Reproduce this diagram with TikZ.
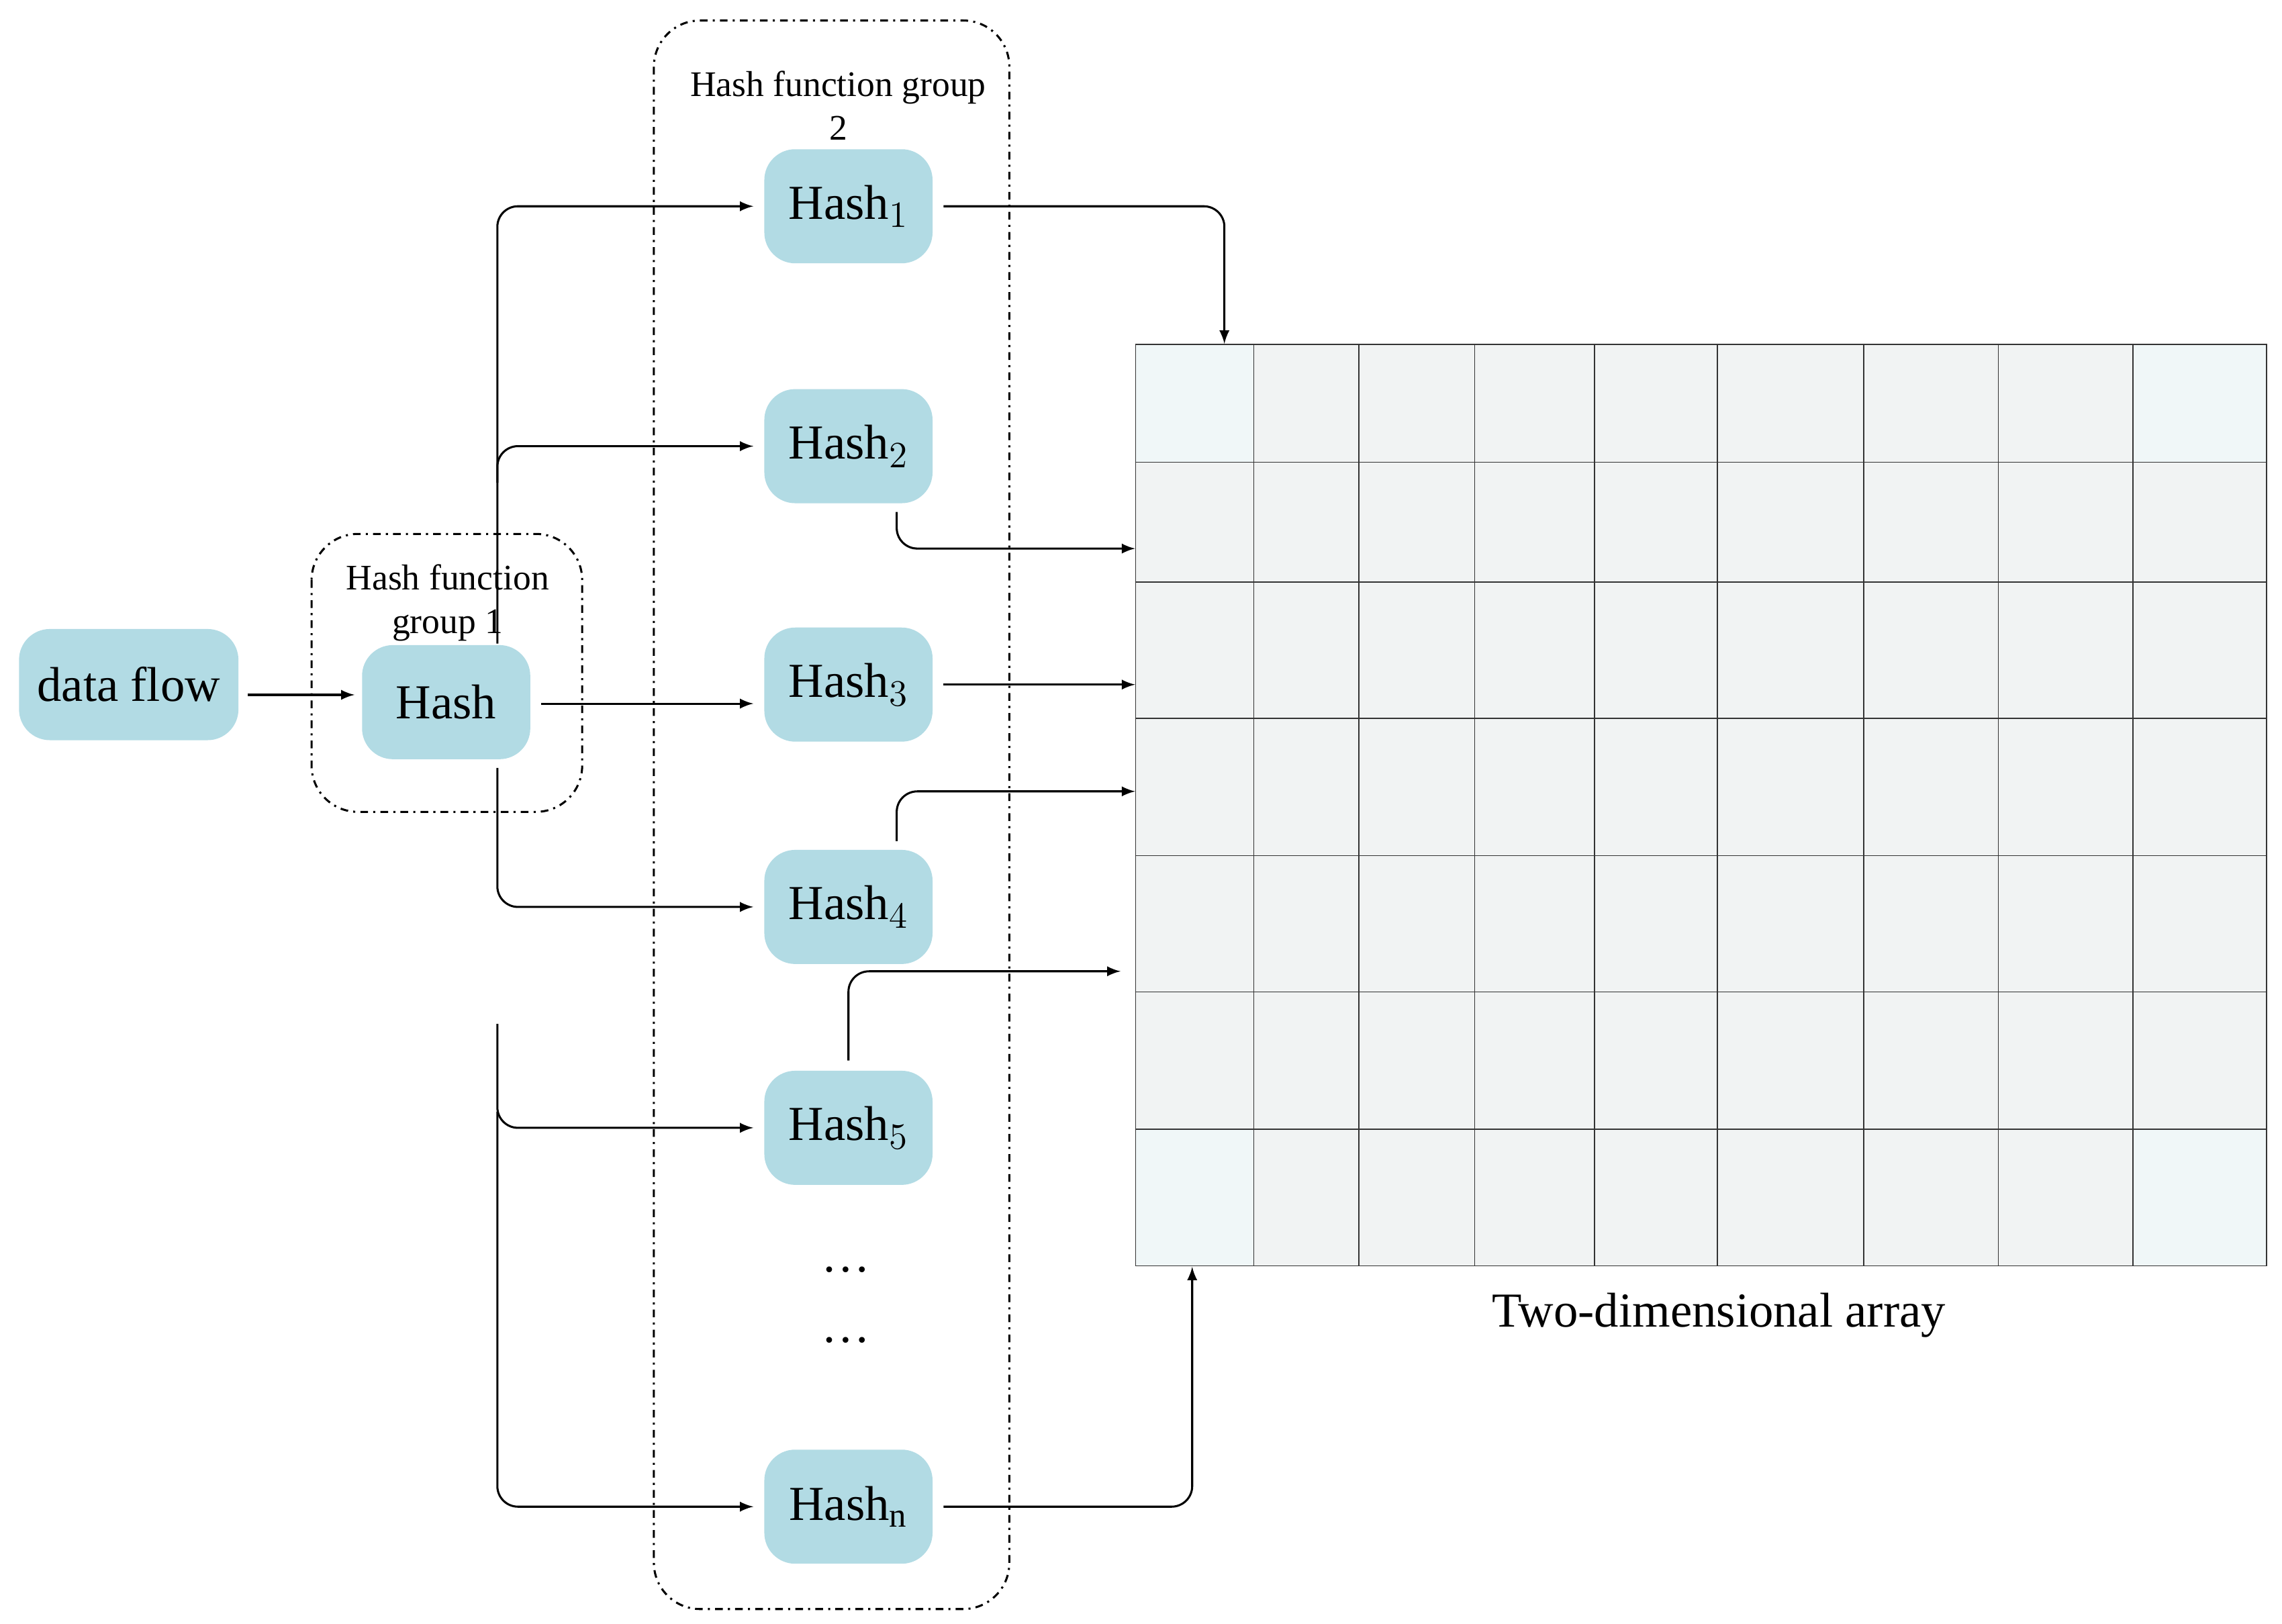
\documentclass[tikz,border=0pt]{standalone}
\usepackage{fontspec}
\setmainfont{Liberation Serif}
\begin{document}
\begin{tikzpicture}[x=0.02cm,y=-0.02cm,
  hb/.style={draw=none,fill=cyan!25!blue!10!white,fill=hashblue,rounded corners=12,minimum width=115*0.02cm,minimum height=78*0.02cm,font=\fontsize{19}{22}\selectfont},
  grp/.style={draw,thick,dash dot,rounded corners=18},
  arr/.style={->,>=latex,thick,rounded corners=8},
  glab/.style={font=\fontsize{14}{17}\selectfont,align=center}]
\definecolor{hashblue}{RGB}{178,219,228}
\definecolor{cellg}{RGB}{241,243,243}
\definecolor{cellb}{RGB}{240,247,248}
\useasboundingbox (0,0) rectangle (1560,1110);
% groups
\draw[grp] (213,365) rectangle (398,555);
\draw[grp] (447,14) rectangle (690,1100);
\node[glab] (g1) at (306,412) {Hash function\\group 1};
\node[glab] (g2) at (573,72) {Hash function group\\2};
% nodes
\node[hb,minimum width=150*0.02cm,minimum height=76*0.02cm] (df) at (88,468) {data flow};
\node[hb] (h) at (305,480) {Hash};
\node[hb] (h1) at (580,141) {Hash$_1$};
\node[hb] (h2) at (580,305) {Hash$_2$};
\node[hb] (h3) at (580,468) {Hash$_3$};
\node[hb] (h4) at (580,620) {Hash$_4$};
\node[hb] (h5) at (580,771) {Hash$_5$};
\node[hb] (hn) at (580,1030) {Hash$_\mathrm{n}$};
\node[font=\fontsize{19}{22}\selectfont] (d1) at (578,868) {\dots};
\node[font=\fontsize{19}{22}\selectfont] (d2) at (578,916) {\dots};
% grid
\foreach \xa/\xb [count=\i] in {776/857,857/929,929/1008,1008/1090,1090/1174,1174/1274,1274/1366,1366/1458,1458/1549}
 \foreach \ya/\yb [count=\j] in {235/316,316/398,398/491,491/585,585/678,678/772,772/865}
  \fill[cellg] (\xa,\ya) rectangle (\xb,\yb);
\fill[cellb] (776,235) rectangle (857,316);
\fill[cellb] (1458,235) rectangle (1549,316);
\fill[cellb] (776,772) rectangle (857,865);
\fill[cellb] (1458,772) rectangle (1549,865);
\foreach \x in {857,929,1008,1090,1174,1274,1366,1458} \draw[black!80] (\x,235) -- (\x,865);
\foreach \y in {316,398,491,585,678,772} \draw[black!80] (776,\y) -- (1549,\y);
\node[draw,black!80,minimum width=773*0.02cm,minimum height=630*0.02cm,anchor=north west,inner sep=0] (grid) at (776,235) {};
\node[font=\fontsize{19}{22}\selectfont] (cap) at (1175,899) {Two-dimensional array};
\coordinate (ga) at (837,235);
\coordinate (gb) at (776,375);
\coordinate (gc) at (776,468);
\coordinate (gd) at (776,541);
\coordinate (ge) at (766,664);
\coordinate (gf) at (815,866);
% arrows
\draw[arr] (df.east) ++(6,7) -- ++(73,0);
\draw[arr] (370,481) -- (515,481);
\draw[arr] (340,440) -- (340,141) -- (515,141);
\draw[arr] (340,330) -- (340,305) -- (515,305);
\draw[arr] (340,525) -- (340,620) -- (515,620);
\draw[arr] (340,700) -- (340,771) -- (515,771);
\draw[arr] (340,760) -- (340,1030) -- (515,1030);
\draw[arr] (645,141) -- (837,141) -- (ga);
\draw[arr] (613,350) -- (613,375) -- (gb);
\draw[arr] (645,468) -- (gc);
\draw[arr] (613,575) -- (613,541) -- (gd);
\draw[arr] (580,725) -- (580,664) -- (ge);
\draw[arr] (645,1030) -- (815,1030) -- (gf);
\end{tikzpicture}
\end{document}
